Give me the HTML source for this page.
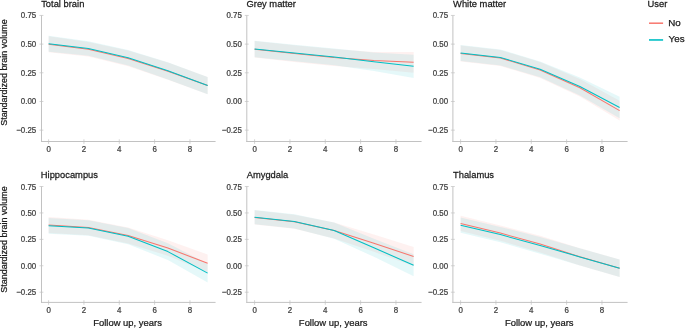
<!DOCTYPE html>
<html><head><meta charset="utf-8"><title>Brain volume by follow up</title>
<style>
html,body{margin:0;padding:0;background:#fff;}
body{width:685px;height:329px;overflow:hidden;}
svg{display:block;will-change:transform;}
text{font-family:"Liberation Sans", sans-serif;stroke-width:0.25px;}
</style></head>
<body>
<svg width="685" height="329" viewBox="0 0 685 329">
<rect width="685" height="329" fill="#fff"/>
<path d="M48.6,36.2 L88.36,41.9 L128.12,50.6 L167.87,62.6 L207.63,77 L207.63,94.2 L167.87,79.8 L128.12,66.2 L88.36,56.5 L48.6,52.2 Z" fill="#F8766D" fill-opacity="0.1"/>
<path d="M48.6,35.7 L88.36,41.2 L128.12,50 L167.87,62.2 L207.63,77 L207.63,94.2 L167.87,79.4 L128.12,65.6 L88.36,55.8 L48.6,51.7 Z" fill="#00BFC4" fill-opacity="0.1"/>
<path d="M48.6,44.2 L88.36,49.2 L128.12,58.4 L167.87,71.2 L207.63,85.6" fill="none" stroke="#F8766D" stroke-width="1.05" stroke-linejoin="round"/>
<path d="M48.6,43.7 L88.36,48.5 L128.12,57.8 L167.87,70.8 L207.63,85.6" fill="none" stroke="#00BFC4" stroke-width="1.05" stroke-linejoin="round"/>
<line x1="41.5" y1="15.44" x2="41.5" y2="142" stroke="#c2c2c2" stroke-width="1"/>
<line x1="41" y1="141.5" x2="215.58" y2="141.5" stroke="#c2c2c2" stroke-width="1"/>
<line x1="39.5" y1="15.44" x2="43.4" y2="15.44" stroke="#c2c2c2" stroke-width="0.7"/>
<text transform="translate(36.2,18.44) scale(0.9,1)" font-size="8.8" fill="#404040" stroke="#404040" text-anchor="end">0.75</text>
<line x1="39.5" y1="44.12" x2="43.4" y2="44.12" stroke="#c2c2c2" stroke-width="0.7"/>
<text transform="translate(36.2,47.12) scale(0.9,1)" font-size="8.8" fill="#404040" stroke="#404040" text-anchor="end">0.50</text>
<line x1="39.5" y1="72.79" x2="43.4" y2="72.79" stroke="#c2c2c2" stroke-width="0.7"/>
<text transform="translate(36.2,75.79) scale(0.9,1)" font-size="8.8" fill="#404040" stroke="#404040" text-anchor="end">0.25</text>
<line x1="39.5" y1="101.47" x2="43.4" y2="101.47" stroke="#c2c2c2" stroke-width="0.7"/>
<text transform="translate(36.2,104.47) scale(0.9,1)" font-size="8.8" fill="#404040" stroke="#404040" text-anchor="end">0.00</text>
<line x1="39.5" y1="130.14" x2="43.4" y2="130.14" stroke="#c2c2c2" stroke-width="0.7"/>
<text transform="translate(36.2,133.14) scale(0.9,1)" font-size="8.8" fill="#404040" stroke="#404040" text-anchor="end">−0.25</text>
<line x1="48.6" y1="139.3" x2="48.6" y2="143.9" stroke="#c2c2c2" stroke-width="0.7"/>
<text transform="translate(48.6,151.8) scale(0.9,1)" font-size="8.8" fill="#404040" stroke="#404040" text-anchor="middle">0</text>
<line x1="83.94" y1="139.3" x2="83.94" y2="143.9" stroke="#c2c2c2" stroke-width="0.7"/>
<text transform="translate(83.94,151.8) scale(0.9,1)" font-size="8.8" fill="#404040" stroke="#404040" text-anchor="middle">2</text>
<line x1="119.28" y1="139.3" x2="119.28" y2="143.9" stroke="#c2c2c2" stroke-width="0.7"/>
<text transform="translate(119.28,151.8) scale(0.9,1)" font-size="8.8" fill="#404040" stroke="#404040" text-anchor="middle">4</text>
<line x1="154.62" y1="139.3" x2="154.62" y2="143.9" stroke="#c2c2c2" stroke-width="0.7"/>
<text transform="translate(154.62,151.8) scale(0.9,1)" font-size="8.8" fill="#404040" stroke="#404040" text-anchor="middle">6</text>
<line x1="189.96" y1="139.3" x2="189.96" y2="143.9" stroke="#c2c2c2" stroke-width="0.7"/>
<text transform="translate(189.96,151.8) scale(0.9,1)" font-size="8.8" fill="#404040" stroke="#404040" text-anchor="middle">8</text>
<text transform="translate(41.2,6.75) scale(0.945,1)" font-size="9.9" fill="#1a1a1a" stroke="#1a1a1a">Total brain</text>
<path d="M254.6,41.1 L294.36,45.3 L334.12,49.1 L373.87,51.9 L413.63,51.9 L413.63,72.7 L373.87,69.1 L334.12,65.9 L294.36,61.9 L254.6,57.5 Z" fill="#F8766D" fill-opacity="0.1"/>
<path d="M254.6,40.8 L294.36,44.7 L334.12,48.5 L373.87,52.4 L413.63,54.7 L413.63,77.9 L373.87,71 L334.12,65.3 L294.36,61.3 L254.6,57.2 Z" fill="#00BFC4" fill-opacity="0.1"/>
<path d="M254.6,49.3 L294.36,53.6 L334.12,57.5 L373.87,60.5 L413.63,62.3" fill="none" stroke="#F8766D" stroke-width="1.05" stroke-linejoin="round"/>
<path d="M254.6,49 L294.36,53 L334.12,56.9 L373.87,61.7 L413.63,66.3" fill="none" stroke="#00BFC4" stroke-width="1.05" stroke-linejoin="round"/>
<line x1="246.8" y1="15.44" x2="246.8" y2="142" stroke="#c2c2c2" stroke-width="1"/>
<line x1="246.3" y1="141.5" x2="421.58" y2="141.5" stroke="#c2c2c2" stroke-width="1"/>
<line x1="244.8" y1="15.44" x2="248.7" y2="15.44" stroke="#c2c2c2" stroke-width="0.7"/>
<text transform="translate(241.8,18.44) scale(0.9,1)" font-size="8.8" fill="#404040" stroke="#404040" text-anchor="end">0.75</text>
<line x1="244.8" y1="44.12" x2="248.7" y2="44.12" stroke="#c2c2c2" stroke-width="0.7"/>
<text transform="translate(241.8,47.12) scale(0.9,1)" font-size="8.8" fill="#404040" stroke="#404040" text-anchor="end">0.50</text>
<line x1="244.8" y1="72.79" x2="248.7" y2="72.79" stroke="#c2c2c2" stroke-width="0.7"/>
<text transform="translate(241.8,75.79) scale(0.9,1)" font-size="8.8" fill="#404040" stroke="#404040" text-anchor="end">0.25</text>
<line x1="244.8" y1="101.47" x2="248.7" y2="101.47" stroke="#c2c2c2" stroke-width="0.7"/>
<text transform="translate(241.8,104.47) scale(0.9,1)" font-size="8.8" fill="#404040" stroke="#404040" text-anchor="end">0.00</text>
<line x1="244.8" y1="130.14" x2="248.7" y2="130.14" stroke="#c2c2c2" stroke-width="0.7"/>
<text transform="translate(241.8,133.14) scale(0.9,1)" font-size="8.8" fill="#404040" stroke="#404040" text-anchor="end">−0.25</text>
<line x1="254.6" y1="139.3" x2="254.6" y2="143.9" stroke="#c2c2c2" stroke-width="0.7"/>
<text transform="translate(254.6,151.8) scale(0.9,1)" font-size="8.8" fill="#404040" stroke="#404040" text-anchor="middle">0</text>
<line x1="289.94" y1="139.3" x2="289.94" y2="143.9" stroke="#c2c2c2" stroke-width="0.7"/>
<text transform="translate(289.94,151.8) scale(0.9,1)" font-size="8.8" fill="#404040" stroke="#404040" text-anchor="middle">2</text>
<line x1="325.28" y1="139.3" x2="325.28" y2="143.9" stroke="#c2c2c2" stroke-width="0.7"/>
<text transform="translate(325.28,151.8) scale(0.9,1)" font-size="8.8" fill="#404040" stroke="#404040" text-anchor="middle">4</text>
<line x1="360.62" y1="139.3" x2="360.62" y2="143.9" stroke="#c2c2c2" stroke-width="0.7"/>
<text transform="translate(360.62,151.8) scale(0.9,1)" font-size="8.8" fill="#404040" stroke="#404040" text-anchor="middle">6</text>
<line x1="395.96" y1="139.3" x2="395.96" y2="143.9" stroke="#c2c2c2" stroke-width="0.7"/>
<text transform="translate(395.96,151.8) scale(0.9,1)" font-size="8.8" fill="#404040" stroke="#404040" text-anchor="middle">8</text>
<text transform="translate(246.5,6.75) scale(0.945,1)" font-size="9.9" fill="#1a1a1a" stroke="#1a1a1a">Grey matter</text>
<path d="M460.6,45.5 L500.36,50 L540.12,62.1 L579.87,79.1 L619.63,100.8 L619.63,120.4 L579.87,96.5 L540.12,77.9 L500.36,66 L460.6,61.5 Z" fill="#F8766D" fill-opacity="0.1"/>
<path d="M460.6,45 L500.36,49.4 L540.12,61.4 L579.87,77.6 L619.63,96.7 L619.63,118.3 L579.87,95.4 L540.12,77.2 L500.36,65.4 L460.6,61 Z" fill="#00BFC4" fill-opacity="0.1"/>
<path d="M460.6,53.5 L500.36,58 L540.12,70 L579.87,87.8 L619.63,110.6" fill="none" stroke="#F8766D" stroke-width="1.05" stroke-linejoin="round"/>
<path d="M460.6,53 L500.36,57.4 L540.12,69.3 L579.87,86.5 L619.63,107.5" fill="none" stroke="#00BFC4" stroke-width="1.05" stroke-linejoin="round"/>
<line x1="452.9" y1="15.44" x2="452.9" y2="142" stroke="#c2c2c2" stroke-width="1"/>
<line x1="452.4" y1="141.5" x2="627.58" y2="141.5" stroke="#c2c2c2" stroke-width="1"/>
<line x1="450.9" y1="15.44" x2="454.8" y2="15.44" stroke="#c2c2c2" stroke-width="0.7"/>
<text transform="translate(448.1,18.44) scale(0.9,1)" font-size="8.8" fill="#404040" stroke="#404040" text-anchor="end">0.75</text>
<line x1="450.9" y1="44.12" x2="454.8" y2="44.12" stroke="#c2c2c2" stroke-width="0.7"/>
<text transform="translate(448.1,47.12) scale(0.9,1)" font-size="8.8" fill="#404040" stroke="#404040" text-anchor="end">0.50</text>
<line x1="450.9" y1="72.79" x2="454.8" y2="72.79" stroke="#c2c2c2" stroke-width="0.7"/>
<text transform="translate(448.1,75.79) scale(0.9,1)" font-size="8.8" fill="#404040" stroke="#404040" text-anchor="end">0.25</text>
<line x1="450.9" y1="101.47" x2="454.8" y2="101.47" stroke="#c2c2c2" stroke-width="0.7"/>
<text transform="translate(448.1,104.47) scale(0.9,1)" font-size="8.8" fill="#404040" stroke="#404040" text-anchor="end">0.00</text>
<line x1="450.9" y1="130.14" x2="454.8" y2="130.14" stroke="#c2c2c2" stroke-width="0.7"/>
<text transform="translate(448.1,133.14) scale(0.9,1)" font-size="8.8" fill="#404040" stroke="#404040" text-anchor="end">−0.25</text>
<line x1="460.6" y1="139.3" x2="460.6" y2="143.9" stroke="#c2c2c2" stroke-width="0.7"/>
<text transform="translate(460.6,151.8) scale(0.9,1)" font-size="8.8" fill="#404040" stroke="#404040" text-anchor="middle">0</text>
<line x1="495.94" y1="139.3" x2="495.94" y2="143.9" stroke="#c2c2c2" stroke-width="0.7"/>
<text transform="translate(495.94,151.8) scale(0.9,1)" font-size="8.8" fill="#404040" stroke="#404040" text-anchor="middle">2</text>
<line x1="531.28" y1="139.3" x2="531.28" y2="143.9" stroke="#c2c2c2" stroke-width="0.7"/>
<text transform="translate(531.28,151.8) scale(0.9,1)" font-size="8.8" fill="#404040" stroke="#404040" text-anchor="middle">4</text>
<line x1="566.62" y1="139.3" x2="566.62" y2="143.9" stroke="#c2c2c2" stroke-width="0.7"/>
<text transform="translate(566.62,151.8) scale(0.9,1)" font-size="8.8" fill="#404040" stroke="#404040" text-anchor="middle">6</text>
<line x1="601.96" y1="139.3" x2="601.96" y2="143.9" stroke="#c2c2c2" stroke-width="0.7"/>
<text transform="translate(601.96,151.8) scale(0.9,1)" font-size="8.8" fill="#404040" stroke="#404040" text-anchor="middle">8</text>
<text transform="translate(453.1,6.75) scale(0.945,1)" font-size="9.9" fill="#1a1a1a" stroke="#1a1a1a">White matter</text>
<path d="M48.6,217.1 L88.36,219.7 L128.12,227.4 L167.87,240.2 L207.63,254.4 L207.63,272.2 L167.87,255.8 L128.12,243.6 L88.36,235.3 L48.6,232.9 Z" fill="#F8766D" fill-opacity="0.1"/>
<path d="M48.6,217.9 L88.36,220.2 L128.12,228.1 L167.87,243.2 L207.63,263.7 L207.63,282.5 L167.87,260 L128.12,244.3 L88.36,235.8 L48.6,233.7 Z" fill="#00BFC4" fill-opacity="0.1"/>
<path d="M48.6,225 L88.36,227.5 L128.12,235.5 L167.87,248 L207.63,263.3" fill="none" stroke="#F8766D" stroke-width="1.05" stroke-linejoin="round"/>
<path d="M48.6,225.8 L88.36,228 L128.12,236.2 L167.87,251.6 L207.63,273.1" fill="none" stroke="#00BFC4" stroke-width="1.05" stroke-linejoin="round"/>
<line x1="41.5" y1="186.5" x2="41.5" y2="302.9" stroke="#c2c2c2" stroke-width="1"/>
<line x1="41" y1="302.4" x2="215.58" y2="302.4" stroke="#c2c2c2" stroke-width="1"/>
<line x1="39.5" y1="186.5" x2="43.4" y2="186.5" stroke="#c2c2c2" stroke-width="0.7"/>
<text transform="translate(36.2,189.5) scale(0.9,1)" font-size="8.8" fill="#404040" stroke="#404040" text-anchor="end">0.75</text>
<line x1="39.5" y1="212.93" x2="43.4" y2="212.93" stroke="#c2c2c2" stroke-width="0.7"/>
<text transform="translate(36.2,215.93) scale(0.9,1)" font-size="8.8" fill="#404040" stroke="#404040" text-anchor="end">0.50</text>
<line x1="39.5" y1="239.35" x2="43.4" y2="239.35" stroke="#c2c2c2" stroke-width="0.7"/>
<text transform="translate(36.2,242.35) scale(0.9,1)" font-size="8.8" fill="#404040" stroke="#404040" text-anchor="end">0.25</text>
<line x1="39.5" y1="265.77" x2="43.4" y2="265.77" stroke="#c2c2c2" stroke-width="0.7"/>
<text transform="translate(36.2,268.77) scale(0.9,1)" font-size="8.8" fill="#404040" stroke="#404040" text-anchor="end">0.00</text>
<line x1="39.5" y1="292.2" x2="43.4" y2="292.2" stroke="#c2c2c2" stroke-width="0.7"/>
<text transform="translate(36.2,295.2) scale(0.9,1)" font-size="8.8" fill="#404040" stroke="#404040" text-anchor="end">−0.25</text>
<line x1="48.6" y1="300.2" x2="48.6" y2="304.8" stroke="#c2c2c2" stroke-width="0.7"/>
<text transform="translate(48.6,312.7) scale(0.9,1)" font-size="8.8" fill="#404040" stroke="#404040" text-anchor="middle">0</text>
<line x1="83.94" y1="300.2" x2="83.94" y2="304.8" stroke="#c2c2c2" stroke-width="0.7"/>
<text transform="translate(83.94,312.7) scale(0.9,1)" font-size="8.8" fill="#404040" stroke="#404040" text-anchor="middle">2</text>
<line x1="119.28" y1="300.2" x2="119.28" y2="304.8" stroke="#c2c2c2" stroke-width="0.7"/>
<text transform="translate(119.28,312.7) scale(0.9,1)" font-size="8.8" fill="#404040" stroke="#404040" text-anchor="middle">4</text>
<line x1="154.62" y1="300.2" x2="154.62" y2="304.8" stroke="#c2c2c2" stroke-width="0.7"/>
<text transform="translate(154.62,312.7) scale(0.9,1)" font-size="8.8" fill="#404040" stroke="#404040" text-anchor="middle">6</text>
<line x1="189.96" y1="300.2" x2="189.96" y2="304.8" stroke="#c2c2c2" stroke-width="0.7"/>
<text transform="translate(189.96,312.7) scale(0.9,1)" font-size="8.8" fill="#404040" stroke="#404040" text-anchor="middle">8</text>
<text transform="translate(40.8,178) scale(0.945,1)" font-size="9.9" fill="#1a1a1a" stroke="#1a1a1a">Hippocampus</text>
<path d="M254.6,210.25 L294.36,214.65 L334.12,222.4 L373.87,234.6 L413.63,247 L413.63,266 L373.87,251.8 L334.12,238.6 L294.36,228.75 L254.6,224.55 Z" fill="#F8766D" fill-opacity="0.1"/>
<path d="M254.6,210.05 L294.36,214.35 L334.12,222.5 L373.87,238.8 L413.63,254.2 L413.63,276.2 L373.87,256.8 L334.12,238.7 L294.36,228.45 L254.6,224.35 Z" fill="#00BFC4" fill-opacity="0.1"/>
<path d="M254.6,217.4 L294.36,221.7 L334.12,230.5 L373.87,243.2 L413.63,256.5" fill="none" stroke="#F8766D" stroke-width="1.05" stroke-linejoin="round"/>
<path d="M254.6,217.2 L294.36,221.4 L334.12,230.6 L373.87,247.8 L413.63,265.2" fill="none" stroke="#00BFC4" stroke-width="1.05" stroke-linejoin="round"/>
<line x1="246.8" y1="186.5" x2="246.8" y2="302.9" stroke="#c2c2c2" stroke-width="1"/>
<line x1="246.3" y1="302.4" x2="421.58" y2="302.4" stroke="#c2c2c2" stroke-width="1"/>
<line x1="244.8" y1="186.5" x2="248.7" y2="186.5" stroke="#c2c2c2" stroke-width="0.7"/>
<text transform="translate(241.8,189.5) scale(0.9,1)" font-size="8.8" fill="#404040" stroke="#404040" text-anchor="end">0.75</text>
<line x1="244.8" y1="212.93" x2="248.7" y2="212.93" stroke="#c2c2c2" stroke-width="0.7"/>
<text transform="translate(241.8,215.93) scale(0.9,1)" font-size="8.8" fill="#404040" stroke="#404040" text-anchor="end">0.50</text>
<line x1="244.8" y1="239.35" x2="248.7" y2="239.35" stroke="#c2c2c2" stroke-width="0.7"/>
<text transform="translate(241.8,242.35) scale(0.9,1)" font-size="8.8" fill="#404040" stroke="#404040" text-anchor="end">0.25</text>
<line x1="244.8" y1="265.77" x2="248.7" y2="265.77" stroke="#c2c2c2" stroke-width="0.7"/>
<text transform="translate(241.8,268.77) scale(0.9,1)" font-size="8.8" fill="#404040" stroke="#404040" text-anchor="end">0.00</text>
<line x1="244.8" y1="292.2" x2="248.7" y2="292.2" stroke="#c2c2c2" stroke-width="0.7"/>
<text transform="translate(241.8,295.2) scale(0.9,1)" font-size="8.8" fill="#404040" stroke="#404040" text-anchor="end">−0.25</text>
<line x1="254.6" y1="300.2" x2="254.6" y2="304.8" stroke="#c2c2c2" stroke-width="0.7"/>
<text transform="translate(254.6,312.7) scale(0.9,1)" font-size="8.8" fill="#404040" stroke="#404040" text-anchor="middle">0</text>
<line x1="289.94" y1="300.2" x2="289.94" y2="304.8" stroke="#c2c2c2" stroke-width="0.7"/>
<text transform="translate(289.94,312.7) scale(0.9,1)" font-size="8.8" fill="#404040" stroke="#404040" text-anchor="middle">2</text>
<line x1="325.28" y1="300.2" x2="325.28" y2="304.8" stroke="#c2c2c2" stroke-width="0.7"/>
<text transform="translate(325.28,312.7) scale(0.9,1)" font-size="8.8" fill="#404040" stroke="#404040" text-anchor="middle">4</text>
<line x1="360.62" y1="300.2" x2="360.62" y2="304.8" stroke="#c2c2c2" stroke-width="0.7"/>
<text transform="translate(360.62,312.7) scale(0.9,1)" font-size="8.8" fill="#404040" stroke="#404040" text-anchor="middle">6</text>
<line x1="395.96" y1="300.2" x2="395.96" y2="304.8" stroke="#c2c2c2" stroke-width="0.7"/>
<text transform="translate(395.96,312.7) scale(0.9,1)" font-size="8.8" fill="#404040" stroke="#404040" text-anchor="middle">8</text>
<text transform="translate(246.7,178) scale(0.945,1)" font-size="9.9" fill="#1a1a1a" stroke="#1a1a1a">Amygdala</text>
<path d="M460.6,215.8 L500.36,225.4 L540.12,235.8 L579.87,248.2 L619.63,259.5 L619.63,276.9 L579.87,265.4 L540.12,252.4 L500.36,240.8 L460.6,231 Z" fill="#F8766D" fill-opacity="0.1"/>
<path d="M460.6,217.6 L500.36,226.9 L540.12,237.1 L579.87,248.3 L619.63,259.5 L619.63,276.9 L579.87,265.5 L540.12,253.7 L500.36,242.3 L460.6,232.8 Z" fill="#00BFC4" fill-opacity="0.1"/>
<path d="M460.6,223.4 L500.36,233.1 L540.12,244.1 L579.87,256.8 L619.63,268.2" fill="none" stroke="#F8766D" stroke-width="1.05" stroke-linejoin="round"/>
<path d="M460.6,225.2 L500.36,234.6 L540.12,245.4 L579.87,256.9 L619.63,268.2" fill="none" stroke="#00BFC4" stroke-width="1.05" stroke-linejoin="round"/>
<line x1="452.9" y1="186.5" x2="452.9" y2="302.9" stroke="#c2c2c2" stroke-width="1"/>
<line x1="452.4" y1="302.4" x2="627.58" y2="302.4" stroke="#c2c2c2" stroke-width="1"/>
<line x1="450.9" y1="186.5" x2="454.8" y2="186.5" stroke="#c2c2c2" stroke-width="0.7"/>
<text transform="translate(448.1,189.5) scale(0.9,1)" font-size="8.8" fill="#404040" stroke="#404040" text-anchor="end">0.75</text>
<line x1="450.9" y1="212.93" x2="454.8" y2="212.93" stroke="#c2c2c2" stroke-width="0.7"/>
<text transform="translate(448.1,215.93) scale(0.9,1)" font-size="8.8" fill="#404040" stroke="#404040" text-anchor="end">0.50</text>
<line x1="450.9" y1="239.35" x2="454.8" y2="239.35" stroke="#c2c2c2" stroke-width="0.7"/>
<text transform="translate(448.1,242.35) scale(0.9,1)" font-size="8.8" fill="#404040" stroke="#404040" text-anchor="end">0.25</text>
<line x1="450.9" y1="265.77" x2="454.8" y2="265.77" stroke="#c2c2c2" stroke-width="0.7"/>
<text transform="translate(448.1,268.77) scale(0.9,1)" font-size="8.8" fill="#404040" stroke="#404040" text-anchor="end">0.00</text>
<line x1="450.9" y1="292.2" x2="454.8" y2="292.2" stroke="#c2c2c2" stroke-width="0.7"/>
<text transform="translate(448.1,295.2) scale(0.9,1)" font-size="8.8" fill="#404040" stroke="#404040" text-anchor="end">−0.25</text>
<line x1="460.6" y1="300.2" x2="460.6" y2="304.8" stroke="#c2c2c2" stroke-width="0.7"/>
<text transform="translate(460.6,312.7) scale(0.9,1)" font-size="8.8" fill="#404040" stroke="#404040" text-anchor="middle">0</text>
<line x1="495.94" y1="300.2" x2="495.94" y2="304.8" stroke="#c2c2c2" stroke-width="0.7"/>
<text transform="translate(495.94,312.7) scale(0.9,1)" font-size="8.8" fill="#404040" stroke="#404040" text-anchor="middle">2</text>
<line x1="531.28" y1="300.2" x2="531.28" y2="304.8" stroke="#c2c2c2" stroke-width="0.7"/>
<text transform="translate(531.28,312.7) scale(0.9,1)" font-size="8.8" fill="#404040" stroke="#404040" text-anchor="middle">4</text>
<line x1="566.62" y1="300.2" x2="566.62" y2="304.8" stroke="#c2c2c2" stroke-width="0.7"/>
<text transform="translate(566.62,312.7) scale(0.9,1)" font-size="8.8" fill="#404040" stroke="#404040" text-anchor="middle">6</text>
<line x1="601.96" y1="300.2" x2="601.96" y2="304.8" stroke="#c2c2c2" stroke-width="0.7"/>
<text transform="translate(601.96,312.7) scale(0.9,1)" font-size="8.8" fill="#404040" stroke="#404040" text-anchor="middle">8</text>
<text transform="translate(453,178) scale(0.945,1)" font-size="9.9" fill="#1a1a1a" stroke="#1a1a1a">Thalamus</text>
<text transform="translate(6.8,72.6) rotate(-90) scale(0.923,1)" font-size="9.7" fill="#1a1a1a" stroke="#1a1a1a" text-anchor="middle">Standardized brain volume</text>
<text transform="translate(6.8,239.5) rotate(-90) scale(0.923,1)" font-size="9.7" fill="#1a1a1a" stroke="#1a1a1a" text-anchor="middle">Standardized brain volume</text>
<text transform="translate(127.54,326.3) scale(0.963,1)" font-size="9.8" fill="#1a1a1a" stroke="#1a1a1a" text-anchor="middle">Follow up, years</text>
<text transform="translate(333.19,326.3) scale(0.963,1)" font-size="9.8" fill="#1a1a1a" stroke="#1a1a1a" text-anchor="middle">Follow up, years</text>
<text transform="translate(539.24,326.3) scale(0.963,1)" font-size="9.8" fill="#1a1a1a" stroke="#1a1a1a" text-anchor="middle">Follow up, years</text>
<text transform="translate(647.6,6.8) scale(0.945,1)" font-size="9.9" fill="#1a1a1a" stroke="#1a1a1a">User</text>
<line x1="649" y1="23.2" x2="663.1" y2="23.2" stroke="#F8766D" stroke-width="1.5"/>
<line x1="649" y1="39.95" x2="663.1" y2="39.95" stroke="#00BFC4" stroke-width="1.6"/>
<text transform="translate(668.2,25.9)" font-size="9.8" fill="#1a1a1a" stroke="#1a1a1a">No</text>
<text transform="translate(668.6,41.8)" font-size="9.8" fill="#1a1a1a" stroke="#1a1a1a">Yes</text>
</svg>
</body></html>
